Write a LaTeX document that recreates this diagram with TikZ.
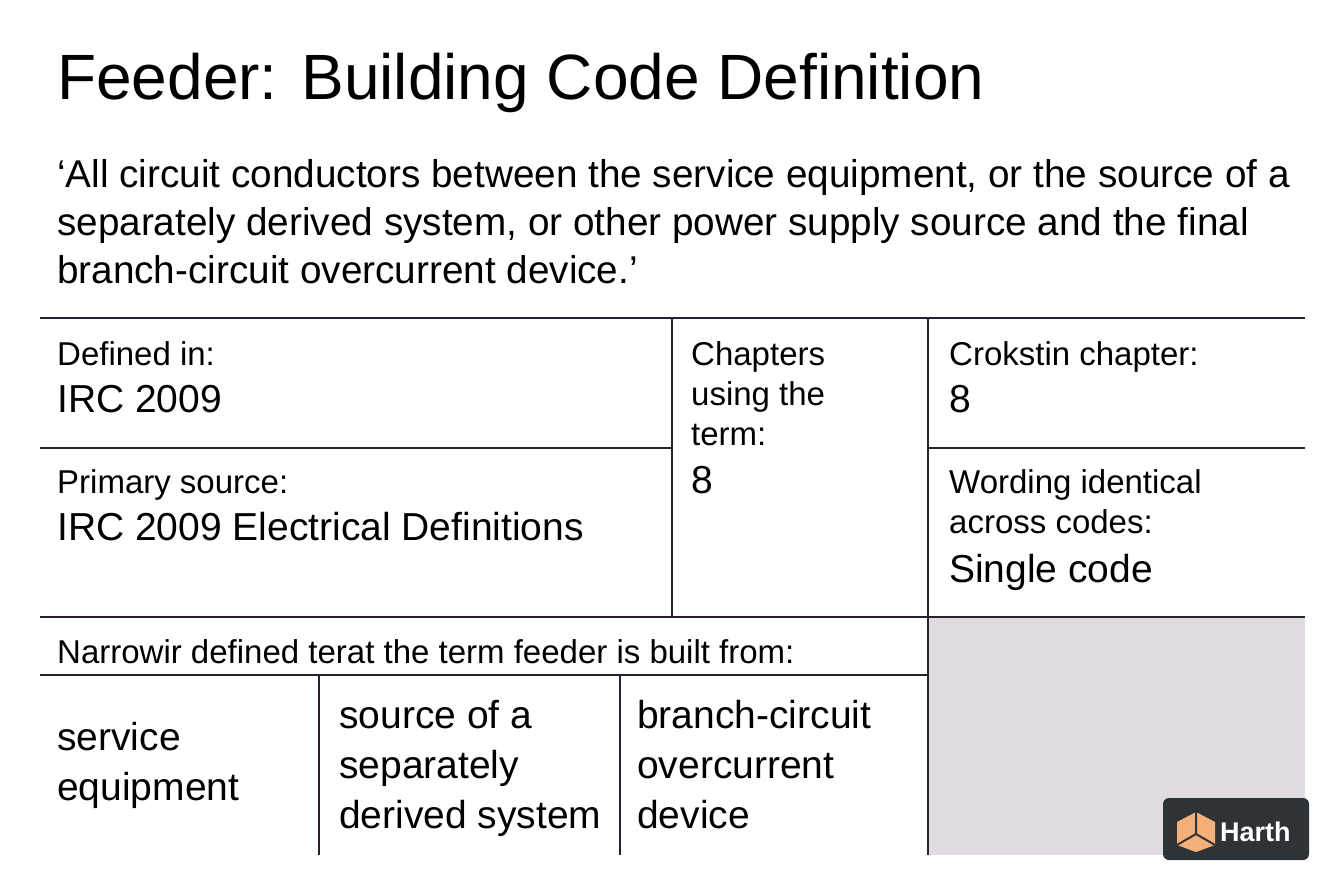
\documentclass[tikz,border=0pt]{standalone}
\usepackage{fontspec}
\setmainfont{Liberation Sans}
\definecolor{gridline}{HTML}{2A2030}
\definecolor{cellgray}{HTML}{E0DCE1}
\definecolor{logobg}{HTML}{2E3338}
\definecolor{logoorange}{HTML}{F5B07A}
\begin{document}
\begin{tikzpicture}[x=1pt, y=-1pt,
        label/.style={anchor=base west, inner sep=0pt, font=\fontsize{33}{33}\selectfont, text=black},
        value/.style={anchor=base west, inner sep=0pt, font=\fontsize{39}{39}\selectfont, text=black},
        rule/.style={draw=gridline, line width=2pt}]
      \useasboundingbox[fill=white] (0,0) rectangle (1344,896);
      % Title and quote
      \node[anchor=base west, inner sep=0pt, font=\fontsize{64}{64}\selectfont] (title) at (57,100) {Feeder: Building Code Definition};
      \node[value, font=\fontsize{38.7}{38.7}\selectfont] (q1) at (57,188) {‘All circuit conductors between the service equipment, or the source of a};
      \node[value, font=\fontsize{38.7}{38.7}\selectfont] (q2) at (57,236) {separately derived system, or other power supply source and the final};
      \node[value, font=\fontsize{38.7}{38.7}\selectfont] (q3) at (57,283) {branch-circuit overcurrent device.’};
      % Grid
      \fill[cellgray] (928,617) rectangle (1305,855);
      \draw[rule] (40,318) -- (1305,318);
      \draw[rule] (40,448) -- (672,448);
      \draw[rule] (928,448) -- (1305,448);
      \draw[rule] (40,617) -- (1305,617);
      \draw[rule] (40,675) -- (928,675);
      \draw[rule] (672,318) -- (672,617);
      \draw[rule] (928,318) -- (928,855);
      \draw[rule] (319,675) -- (319,855);
      \draw[rule] (620,675) -- (620,855);
      % Cells
      \node[label] (defin) at (57,365) {Defined in:};
      \node[value] (defval) at (57,412) {IRC 2009};
      \node[label] (primary) at (57,493) {Primary source:};
      \node[value] (primval) at (57,540) {IRC 2009 Electrical Definitions};
      \node[label] (chap1) at (691,365) {Chapters};
      \node[label] (chap2) at (691,405) {using the};
      \node[label] (chap3) at (691,445) {term:};
      \node[value] (chapval) at (691,493) {8};
      \node[label] (crok) at (949,365) {Crokstin chapter:};
      \node[value] (crokval) at (949,412) {8};
      \node[label] (word1) at (949,493) {Wording identical};
      \node[label] (word2) at (949,533) {across codes:};
      \node[value] (wordval) at (949,582) {Single code};
      \node[label] (narrow) at (57,663) {Narrowir defined terat the term feeder is built from:};
      \node[value] (svc1) at (57,750) {service};
      \node[value] (svc2) at (57,800) {equipment};
      \node[value] (src1) at (339,728) {source of a};
      \node[value] (src2) at (339,778) {separately};
      \node[value] (src3) at (339,828) {derived system};
      \node[value] (br1) at (637,728) {branch-circuit};
      \node[value] (br2) at (637,778) {overcurrent};
      \node[value] (br3) at (637,828) {device};
      % Logo
      \fill[logobg, rounded corners=6pt] (1163,798) rectangle (1309,860);
      \fill[logoorange] (1196,812) -- (1215,822) -- (1215,845) -- (1196,852) -- (1177,845) -- (1177,822) -- cycle;
      \draw[logobg, line width=2pt] (1196,812) -- (1196,834) -- (1177,845) (1196,834) -- (1215,845);
      \node[anchor=base west, inner sep=0pt, text=white, font=\bfseries\fontsize{27}{27}\selectfont] (logo) at (1220,841) {Harth};
    \end{tikzpicture}
\end{document}
